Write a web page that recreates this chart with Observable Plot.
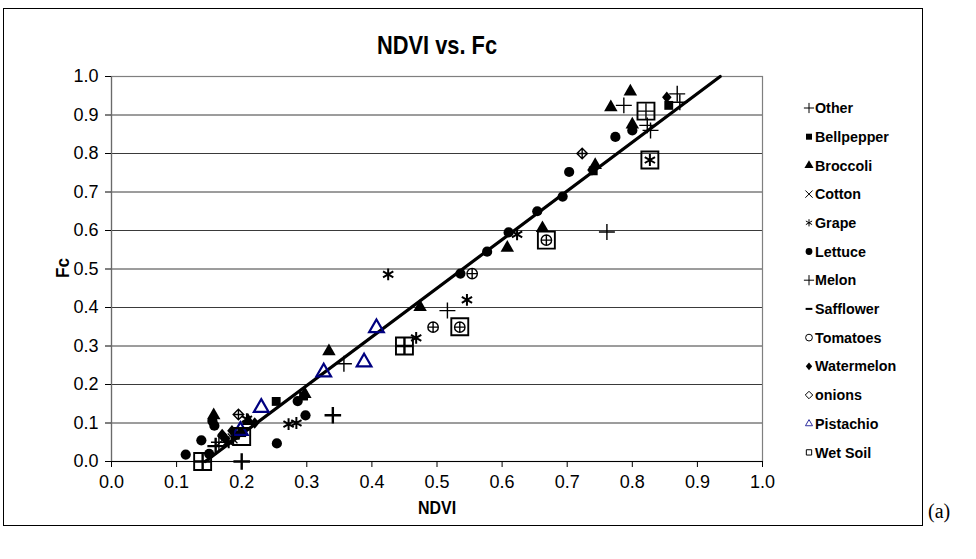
<!DOCTYPE html>
<html><head><meta charset="utf-8">
<script src="https://cdn.jsdelivr.net/npm/d3@7"></script>
<script src="https://cdn.jsdelivr.net/npm/@observablehq/plot@0.6"></script>
<style>
body{margin:0;background:#fff;}
#wrap{position:relative;width:976px;height:559px;font-family:"Liberation Sans",Arial,sans-serif;overflow:hidden;}
#frame{position:absolute;left:3px;top:8px;width:920px;height:518px;border:1px solid #000;box-sizing:border-box;}
#chart{position:absolute;left:0;top:0;}
.lbl{position:absolute;font-weight:bold;color:#000;white-space:nowrap;font-family:"Liberation Sans",Arial,sans-serif;}
#title{left:437px;top:45px;transform:translate(-50%,-50%) scaleX(0.84);font-size:26px;}
#xlab{left:437px;top:508px;transform:translate(-50%,-50%) scaleX(0.84);font-size:19px;}
#ylab{left:63px;top:268px;transform:translate(-50%,-50%) rotate(-90deg) scaleX(0.9);font-size:19px;}
#tag{position:absolute;left:928px;top:500px;font-size:20px;font-family:"Liberation Serif","Times New Roman",serif;}
#legend{position:absolute;left:0;top:0;}
</style></head><body>
<div id="wrap">
  <div id="frame"></div>
  <div id="chart"></div>
  <div id="title" class="lbl">NDVI vs. Fc</div>
  <div id="xlab" class="lbl">NDVI</div>
  <div id="ylab" class="lbl">Fc</div>
  <div id="tag">(a)</div>
  <svg id="legend" width="976" height="559"></svg>
</div>
<script>
// ---- data: [NDVI, Fc] ----
const other = [[0.14,0.0],[0.20,0.0],[0.34,0.12],[0.45,0.30],[0.16,0.04]];
const bellpepper = [[0.20,0.075],[0.19,0.068],[0.253,0.156],[0.295,0.17],[0.74,0.755],[0.856,0.925]];
const broccoli = [[0.157,0.12],[0.21,0.105],[0.297,0.175],[0.334,0.286],[0.474,0.401],[0.608,0.555],[0.662,0.606],[0.743,0.77],[0.767,0.92],[0.797,0.961],[0.80,0.875]];
const cotton = [[0.17,0.055],[0.186,0.06]];
const grape = [[0.208,0.11],[0.272,0.097],[0.284,0.1],[0.18,0.05],[0.425,0.486],[0.468,0.321],[0.546,0.42],[0.623,0.59],[0.827,0.783]];
const lettuce = [[0.114,0.018],[0.138,0.055],[0.155,0.105],[0.158,0.093],[0.15,0.02],[0.254,0.047],[0.286,0.157],[0.298,0.12],[0.536,0.488],[0.577,0.545],[0.610,0.595],[0.654,0.65],[0.693,0.688],[0.703,0.752],[0.774,0.843],[0.80,0.86]];
const melon = [[0.357,0.254],[0.516,0.392],[0.761,0.596],[0.787,0.925],[0.821,0.91],[0.823,0.873],[0.828,0.86],[0.869,0.955],[0.873,0.933],[0.165,0.05]];
const safflower = [[0.19,0.062]];
const tomatoes = [[0.494,0.349],[0.535,0.349],[0.554,0.488],[0.668,0.575]];
const watermelon = [[0.175,0.06],[0.185,0.08],[0.17,0.07],[0.22,0.10],[0.738,0.757],[0.853,0.946]];
const onions = [[0.195,0.122],[0.723,0.80]];
const pistachio = [[0.198,0.08],[0.23,0.14],[0.326,0.232],[0.388,0.258],[0.407,0.347]];
const wetSoil = [[0.14,0.0],[0.20,0.065],[0.45,0.30],[0.535,0.35],[0.668,0.575],[0.821,0.91],[0.827,0.783]];
const trendNDVI = [0.144, 0.935];
const trendFc = [0.0, 1.0];
const xTicks = [0,0.1,0.2,0.3,0.4,0.5,0.6,0.7,0.8,0.9,1.0];
const yTicks = [0,0.1,0.2,0.3,0.4,0.5,0.6,0.7,0.8,0.9,1.0];
const seriesNames = ["Other","Bellpepper","Broccoli","Cotton","Grape","Lettuce","Melon","Safflower","Tomatoes","Watermelon","onions","Pistachio","Wet Soil"];

// ---- custom symbols ----
const circlePlus = {draw(ctx, size){const r=Math.sqrt(size/Math.PI);ctx.moveTo(r,0);ctx.arc(0,0,r,0,2*Math.PI);ctx.moveTo(-r,0);ctx.lineTo(r,0);ctx.moveTo(0,-r);ctx.lineTo(0,r);}};
const diamondPlus = {draw(ctx, size){const r=Math.sqrt(size/Math.PI)*1.1;ctx.moveTo(0,-r);ctx.lineTo(r,0);ctx.lineTo(0,r);ctx.lineTo(-r,0);ctx.closePath();ctx.moveTo(-r,0);ctx.lineTo(r,0);ctx.moveTo(0,-r);ctx.lineTo(0,r);}};
const dash = {draw(ctx, size){const r=Math.sqrt(size/Math.PI);ctx.rect(-r,-r*0.3,2*r,r*0.6);}};
const circleO = {draw(ctx, size){const r=Math.sqrt(size/Math.PI);ctx.moveTo(r,0);ctx.arc(0,0,r,0,2*Math.PI);}};
const diamondO = {draw(ctx, size){const r=Math.sqrt(size/Math.PI)*1.1;ctx.moveTo(0,-r);ctx.lineTo(r,0);ctx.lineTo(0,r);ctx.lineTo(-r,0);ctx.closePath();}};
const diamondF = {draw(ctx, size){const r=Math.sqrt(size/Math.PI);const w=r*0.95,h=r*1.15;ctx.moveTo(0,-h);ctx.lineTo(w,0);ctx.lineTo(0,h);ctx.lineTo(-w,0);ctx.closePath();}};

const styles = {
  "Other":      {data: other, symbol:"plus", fill:"none", stroke:"#000", strokeWidth:2.4, r:5.4, legSym:d3.symbolPlus, legFill:false, legW:1},
  "Bellpepper": {data: bellpepper, symbol:"square", fill:"#000", stroke:"none", r:5, legSym:d3.symbolSquare, legFill:true},
  "Broccoli":   {data: broccoli, symbol:"triangle", fill:"#000", stroke:"none", r:5, legSym:d3.symbolTriangle, legFill:true},
  "Cotton":     {data: cotton, symbol:"times", fill:"none", stroke:"#000", strokeWidth:1.2, r:4.5, legSym:d3.symbolTimes, legFill:false, legW:1},
  "Grape":      {data: grape, symbol:"asterisk", fill:"none", stroke:"#000", strokeWidth:2, r:5.6, legSym:d3.symbolAsterisk, legFill:false, legW:1},
  "Lettuce":    {data: lettuce, symbol:"circle", fill:"#000", stroke:"none", r:5.1, legSym:d3.symbolCircle, legFill:true},
  "Melon":      {data: melon, symbol:"plus", fill:"none", stroke:"#000", strokeWidth:1.4, r:5.2, legSym:d3.symbolPlus, legFill:false, legW:1},
  "Safflower":  {data: safflower, symbol:dash, fill:"#000", stroke:"none", r:4.5, legSym:dash, legFill:true},
  "Tomatoes":   {data: tomatoes, symbol:circlePlus, fill:"none", stroke:"#000", strokeWidth:1.4, r:5.2, legSym:circleO, legFill:false, legW:1},
  "Watermelon": {data: watermelon, symbol:diamondF, fill:"#000", stroke:"none", r:5, legSym:diamondF, legFill:true},
  "onions":     {data: onions, symbol:diamondPlus, fill:"none", stroke:"#000", strokeWidth:1.4, r:4.8, legSym:diamondO, legFill:false, legW:1},
  "Pistachio":  {data: pistachio, symbol:"triangle2", fill:"none", stroke:"#000080", strokeWidth:2.2, r:7, legSym:d3.symbolTriangle2, legFill:false, legW:1, legColor:"#3030a0"},
  "Wet Soil":   {data: wetSoil, symbol:"square2", fill:"none", stroke:"#000", strokeWidth:1.9, r:10.8, legSym:d3.symbolSquare2, legFill:false, legW:1}
};

const trend = trendNDVI.map((x,i)=>({x, y: trendFc[i]}));
const dotMarks = seriesNames.map(name => {
  const s = styles[name];
  const rows = s.data.map(([x,y]) => ({x, y}));
  return Plot.dot(rows, {x:"x", y:"y", symbol: s.symbol, r:s.r, fill:s.fill, stroke:s.stroke, strokeWidth:s.strokeWidth||1});
});

const chart = Plot.plot({
  width: 976, height: 559,
  marginLeft: 111, marginRight: 976-762, marginTop: 76, marginBottom: 559-461,
  x: {domain:[0,1]}, y: {domain:[0,1]},
  style: {fontFamily:"'Liberation Sans', Arial, sans-serif", fontSize:"18px", background:"transparent", color:"#000", overflow:"visible"},
  marks: [
    Plot.gridY(yTicks.slice(1,-1), {stroke:"#3a3a3a", strokeOpacity:1, strokeWidth:1}),
    Plot.frame({stroke:"#7f7f7f", strokeWidth:1.2}),
    Plot.ruleX([0], {stroke:"#6a6a6a", strokeWidth:1.2}),
    Plot.ruleY([0], {stroke:"#000", strokeWidth:1.2}),
    Plot.axisX(xTicks, {tickSize:6, tickPadding:8, tickFormat:d3.format(".1f"), label:null, fontSize:18, stroke:"#000"}),
    Plot.axisY(yTicks, {tickSize:6, tickPadding:7, tickFormat:d3.format(".1f"), label:null, fontSize:18, stroke:"#000"}),
    Plot.line(trend, {x:"x", y:"y", stroke:"#000", strokeWidth:3.2}),
    ...dotMarks
  ]
});
document.getElementById("chart").appendChild(chart);

// ---- legend ----
const leg = d3.select("#legend");
seriesNames.forEach((name, i) => {
  const s = styles[name];
  const cy = 108 + i*28.7;
  const g = leg.append("g").attr("transform", `translate(809,${cy})`);
  g.append("path").attr("d", d3.symbol(s.legSym, 36)())
    .attr("fill", s.legFill ? "#000" : "none")
    .attr("stroke", s.legFill ? "none" : (s.legColor || "#000"))
    .attr("stroke-width", s.legW || 1);
  g.append("text").attr("x", 6).attr("dy", "0.36em")
    .attr("font-family", "'Liberation Sans', Arial, sans-serif")
    .attr("font-weight", "bold").attr("font-size", 14.3).text(name);
});
</script>
</body></html>
